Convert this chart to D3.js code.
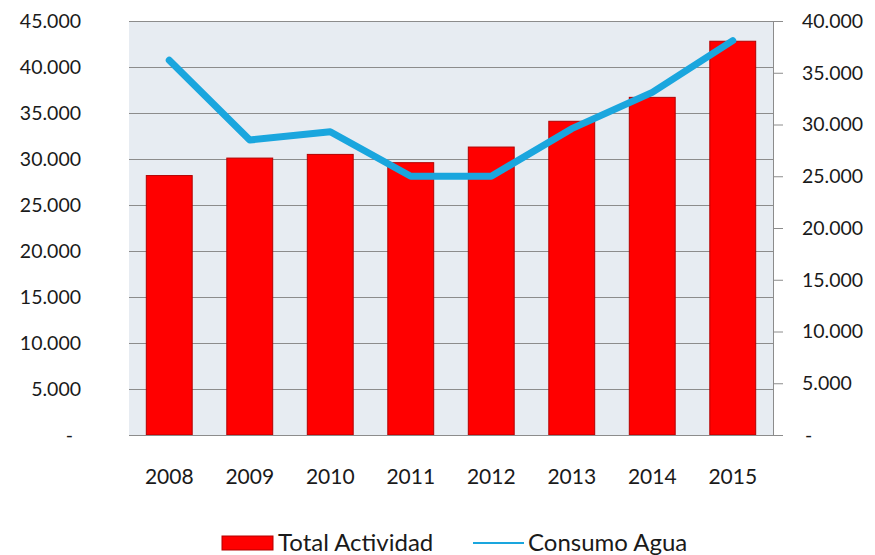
<!DOCTYPE html>
<html>
<head>
<meta charset="utf-8">
<script src="https://cdn.jsdelivr.net/npm/d3@7"></script>
<style>
  body { margin: 0; background: #fff; }
  svg text { font-family: Lato, "Open Sans", sans-serif; fill: #1a1a1a; }
</style>
</head>
<body>
<div id="chart"></div>
<script>
const years = ["2008", "2009", "2010", "2011", "2012", "2013", "2014", "2015"];
const totalActividad = [28200, 30100, 30500, 29600, 31300, 34100, 36700, 42800];
const consumoAgua = [36200, 28500, 29300, 25000, 25000, 29600, 33100, 38100];
const leftTicks = [0, 5000, 10000, 15000, 20000, 25000, 30000, 35000, 40000, 45000];
const rightTicks = [0, 5000, 10000, 15000, 20000, 25000, 30000, 35000, 40000];

const margin = { top: 21, right: 102, bottom: 120, left: 129 };
const width = 875 - margin.left - margin.right;
const height = 555 - margin.top - margin.bottom;

const locale = d3.formatLocale({ decimal: ",", thousands: ".", grouping: [3], currency: ["", ""] });
const fmt = (d) => (d === 0 ? "-" : locale.format(",")(d));

const svg = d3
  .select("#chart")
  .append("svg")
  .attr("width", 875)
  .attr("height", 555);

const container = svg
  .append("g")
  .attr("transform", `translate(${margin.left}, ${margin.top})`);

const xScale = d3.scaleBand().domain(years).range([0, width]).paddingInner(0.43).paddingOuter(0.215);
const yLeft = d3.scaleLinear().domain([0, 45000]).range([height, 0]);
const yRight = d3.scaleLinear().domain([0, 40000]).range([height, 0]);

// plot background
container
  .append("rect")
  .attr("width", width)
  .attr("height", height)
  .attr("fill", "#e7ecf2");

// gridlines
container
  .append("g")
  .selectAll("line")
  .data(leftTicks.filter((d) => d > 0))
  .join("line")
  .attr("x1", 0)
  .attr("x2", width)
  .attr("y1", (d) => Math.round(yLeft(d)) + 0.5)
  .attr("y2", (d) => Math.round(yLeft(d)) + 0.5)
  .attr("stroke", "#8c8c8c")
  .attr("stroke-width", 1);

// bars
container
  .append("g")
  .selectAll("rect")
  .data(totalActividad)
  .join("rect")
  .attr("x", (d, i) => xScale(years[i]))
  .attr("y", (d) => yLeft(d))
  .attr("width", xScale.bandwidth())
  .attr("height", (d) => height - yLeft(d))
  .attr("fill", "#ff0000")
  .attr("stroke", "#b30000")
  .attr("stroke-width", 1);

// left axis
const yAxisLeft = container
  .append("g")
  .call(d3.axisLeft(yLeft).tickValues(leftTicks).tickFormat(fmt).tickSize(0).tickPadding(48));
yAxisLeft.select(".domain").remove();
yAxisLeft.selectAll("text").attr("font-size", 19.5).attr("dx", (d) => (d === 0 ? -8 : 0));

// right axis
const yAxisRight = container
  .append("g")
  .attr("transform", `translate(${width}, 0)`)
  .call(d3.axisRight(yRight).tickValues(rightTicks).tickFormat(fmt).tickSize(10).tickPadding(19));
yAxisRight.select(".domain").attr("stroke", "#8c8c8c").attr("d", `M0.5,0V${height}`);
yAxisRight.selectAll(".tick line").attr("stroke", "#8c8c8c");
yAxisRight.selectAll("text").attr("font-size", 19.5).attr("dx", (d) => (d === 0 ? 3 : 0));

// bottom axis
const xAxis = container
  .append("g")
  .attr("transform", `translate(0, ${height})`)
  .call(d3.axisBottom(xScale).tickSize(0).tickPadding(34));
xAxis.select(".domain").attr("stroke", "#8c8c8c").attr("d", `M0,0.5H${width + 10}`);
xAxis.selectAll("text").attr("font-size", 21);

// line
const line = d3
  .line()
  .x((d, i) => xScale(years[i]) + xScale.bandwidth() / 2)
  .y((d) => yRight(d));

container
  .append("path")
  .datum(consumoAgua)
  .attr("d", line)
  .attr("fill", "none")
  .attr("stroke", "#1aa6de")
  .attr("stroke-width", 7)
  .attr("stroke-linejoin", "round")
  .attr("stroke-linecap", "round");

// legend
const legend = svg.append("g").attr("transform", "translate(0, 543)");
legend
  .append("rect")
  .attr("x", 222)
  .attr("y", -7)
  .attr("width", 51)
  .attr("height", 14)
  .attr("fill", "#ff0000")
  .attr("stroke", "#b30000");
legend
  .append("text")
  .attr("x", 278)
  .attr("y", 0)
  .attr("dy", "0.35em")
  .attr("font-size", 24)
  .text("Total Actividad");
legend
  .append("line")
  .attr("x1", 473)
  .attr("x2", 524)
  .attr("y1", 0)
  .attr("y2", 0)
  .attr("stroke", "#1aa6de")
  .attr("stroke-width", 2);
legend
  .append("text")
  .attr("x", 528)
  .attr("y", 0)
  .attr("dy", "0.35em")
  .attr("font-size", 24)
  .text("Consumo Agua");
</script>
</body>
</html>
